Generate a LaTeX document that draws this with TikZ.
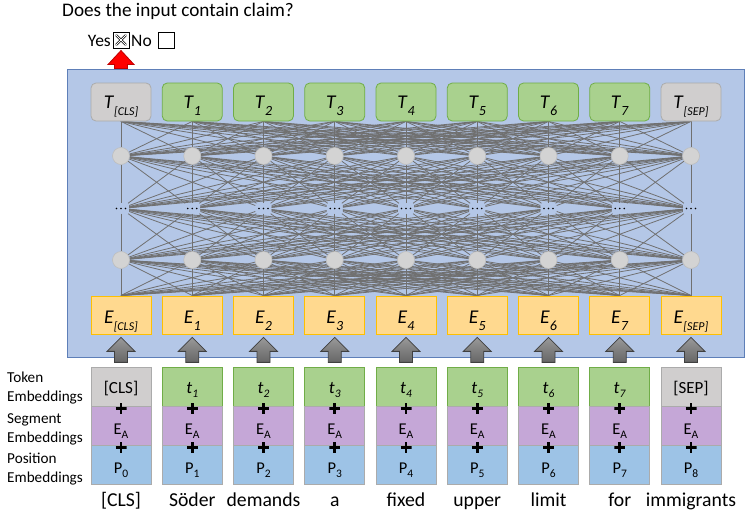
\documentclass[tikz,border=0pt]{standalone}
\usepackage{fontspec}
\setmainfont{Carlito}
\usetikzlibrary{calc}

\pgfdeclarelayer{back}
\pgfdeclarelayer{mid}
\pgfsetlayers{back,mid,main}

\definecolor{panelfill}{HTML}{B4C7E7}
\definecolor{paneledge}{HTML}{5E7FB8}
\definecolor{greenfill}{HTML}{A9D18E}
\definecolor{greenedge}{HTML}{70AD47}
\definecolor{grayfill}{HTML}{D0CECE}
\definecolor{grayedge}{HTML}{ABABAB}
\definecolor{orangefill}{HTML}{FFD98F}
\definecolor{orangeedge}{HTML}{FFC000}
\definecolor{segfill}{HTML}{C5A7D7}
\definecolor{posfill}{HTML}{9DC3E6}
\definecolor{wirecolor}{HTML}{707070}
\definecolor{neuronfill}{HTML}{D3D3D3}
\definecolor{neuronedge}{HTML}{BDBDBD}
\definecolor{arrowred}{HTML}{FF0000}
\definecolor{arrowrededge}{HTML}{C00000}

\newcommand{\fsz}[1]{\fontsize{#1}{#1}\selectfont}
% italic symbol with lowered italic subscript
\newcommand{\itlbl}[4]{\fsz{#1}\textit{#2}\raisebox{-7pt}{\fsz{#3}\textit{#4}}}
% token symbol t_i
\newcommand{\toklbl}[1]{\fsz{17.5}\textit{t}\raisebox{-4pt}{\fsz{11.5}\textit{#1}}}
% upright symbol with lowered subscript
\newcommand{\uplbl}[2]{\fsz{16.5}#1\raisebox{-4pt}{\fsz{11.5}#2}}

\tikzset{
  panelbox/.style={draw=paneledge, fill=panelfill, line width=1pt,
    minimum width=677pt, minimum height=288pt, inner sep=0pt},
  tbox/.style={rounded corners=5pt, minimum width=60pt, minimum height=38pt,
    inner sep=0pt, line width=0.8pt, text height=13pt, text depth=0pt},
  tgreen/.style={tbox, fill=greenfill, draw=greenedge},
  tgray/.style={tbox, fill=grayfill, draw=grayedge},
  ebox/.style={minimum width=60pt, minimum height=38pt, inner sep=0pt,
    fill=orangefill, draw=orangeedge, line width=1pt, text height=16pt, text depth=0pt},
  neuron/.style={circle, minimum size=17pt, inner sep=0pt, fill=neuronfill,
    draw=neuronedge, line width=0.6pt},
  dotgap/.style={minimum width=16pt, minimum height=10pt, inner sep=0pt,
    path picture={
      \fill (path picture bounding box.center) circle (0.9pt)
            ([xshift=-4.5pt]path picture bounding box.center) circle (0.9pt)
            ([xshift=4.5pt]path picture bounding box.center) circle (0.9pt);}},
  wire/.style={draw=wirecolor, line width=0.8pt},
  embbox/.style={minimum width=60pt, minimum height=39pt, inner sep=0pt,
    draw=grayedge, line width=0.8pt},
  tokgreen/.style={embbox, fill=greenfill, draw=greenedge, text height=12pt, text depth=0pt},
  tokgray/.style={embbox, fill=grayfill, text height=12pt, text depth=0pt},
  segbox/.style={embbox, fill=segfill, text height=16pt, text depth=0pt},
  posbox/.style={embbox, fill=posfill, text height=16pt, text depth=0pt},
  plussign/.style={minimum size=11pt, inner sep=0pt,
    path picture={\draw[line width=2.6pt]
      (path picture bounding box.west) -- (path picture bounding box.east)
      (path picture bounding box.north) -- (path picture bounding box.south);}},
  grayarrow/.style={draw=black!75, line width=0.8pt, top color=black!40, bottom color=black!60},
  redarrow/.style={draw=arrowrededge, fill=arrowred, line width=0.8pt},
  checkbox/.style={draw=black, line width=0.8pt, minimum size=16pt, inner sep=0pt},
  crossed/.style={checkbox, path picture={
      \draw[line width=2.4pt, line cap=round]
        ($(path picture bounding box.south west)+(3.5pt,3.5pt)$) -- ($(path picture bounding box.north east)+(-3.5pt,-3.5pt)$)
        ($(path picture bounding box.north west)+(3.5pt,-3.5pt)$) -- ($(path picture bounding box.south east)+(-3.5pt,3.5pt)$);
      \draw[white, line width=0.9pt, line cap=round]
        ($(path picture bounding box.south west)+(3.5pt,3.5pt)$) -- ($(path picture bounding box.north east)+(-3.5pt,-3.5pt)$)
        ($(path picture bounding box.north west)+(3.5pt,-3.5pt)$) -- ($(path picture bounding box.south east)+(-3.5pt,3.5pt)$);}},
  plaintext/.style={inner sep=0pt},
  sidelabel/.style={inner sep=0pt, anchor=west, align=left, font=\fontsize{15.2}{19}\selectfont},
}

\begin{document}
\begin{tikzpicture}[x=1pt, y=-1pt]
\useasboundingbox (0,0) rectangle (746,511);

% encoder panel
\begin{pgfonlayer}{back}
  \node[panelbox] (panel) at (405.5,213) {};
\end{pgfonlayer}

% question and answer boxes
\node[plaintext, anchor=base west, font=\fsz{19.2}] (question) at (62,17) {Does the input contain claim?};
\node[plaintext, anchor=base east, font=\fsz{17.5}] (yes) at (111,46) {Yes};
\node[crossed] (yesbox) at (121,40) {};
\node[plaintext, anchor=base west, font=\fsz{17.5}] (no) at (131,46) {No};
\node[checkbox] (nobox) at (166,40) {};

% output row
\node[tgray] (T0) at (121,102) {\itlbl{19.5}{T}{12}{[CLS]}};
\foreach \i in {1,...,7}
  \node[tgreen] (T\i) at ({121+71.25*\i},102) {\itlbl{19.5}{T}{14}{\i}};
\node[tgray] (T8) at (691,102) {\itlbl{19.5}{T}{12}{[SEP]}};

% hidden units
\foreach \i in {0,...,8}{
  \node[neuron] (h\i) at ({121+71.25*\i},156) {};
  \node[dotgap] (d\i) at ({121+71.25*\i},208.5) {};
  \node[neuron] (g\i) at ({121+71.25*\i},260) {};
}

% input embedding row
\node[ebox] (E0) at (121,315) {\itlbl{19.5}{E}{12}{[CLS]}};
\foreach \i in {1,...,7}
  \node[ebox] (E\i) at ({121+71.25*\i},315) {\itlbl{19.5}{E}{14}{\i}};
\node[ebox] (E8) at (691,315) {\itlbl{19.5}{E}{12}{[SEP]}};

% full connections between layers
\begin{pgfonlayer}{mid}
\foreach \i in {0,...,8}{
  \foreach \j in {0,...,8}{
    \draw[wire] (T\i.south) -- (h\j);
    \draw[wire] (h\i) -- (d\j);
    \draw[wire] (d\i) -- (g\j);
    \draw[wire] (g\i) -- (E\j.north);
  }
}
\end{pgfonlayer}

% token / segment / position embeddings
\node[tokgray] (tok0) at (121,387.25) {\fsz{17}[CLS]};
\foreach \i in {1,...,7}
  \node[tokgreen] (tok\i) at ({121+71.25*\i},387.25) {\toklbl{\i}};
\node[tokgray] (tok8) at (691,387.25) {\fsz{17}[SEP]};

\foreach \i in {0,...,8}{
  \node[segbox] (seg\i) at ({121+71.25*\i},426.25) {\uplbl{E}{A}};
  \node[posbox] (pos\i) at ({121+71.25*\i},465.25) {\uplbl{P}{\i}};
  \node[plussign] (plusA\i) at ([yshift=-1.5pt]tok\i.south) {};
  \node[plussign] (plusB\i) at ([yshift=-1.5pt]seg\i.south) {};
  % block arrow from token stack into the encoder
  \draw[grayarrow] ($(tok\i.north)+(-6.5,-5)$) -- ++(0,-11) -- ++(-7.5,0)
    -- ++(14,-14) -- ++(14,14) -- ++(-7.5,0) -- ++(0,11) -- cycle;
}

% words
\foreach \i/\w in {0/{[CLS]},1/Söder,2/demands,3/a,4/fixed,5/upper,6/limit,7/for,8/immigrants}
  \node[plaintext, anchor=base, font=\fsz{19.7}] (w\i) at ({121+71.25*\i},506) {\w};

% row labels
\node[sidelabel] (toklabel) at (7,388) {Token\\Embeddings};
\node[sidelabel] (seglabel) at (7,429) {Segment\\Embeddings};
\node[sidelabel] (poslabel) at (7,469) {Position\\Embeddings};

% classification output arrow
\draw[redarrow] ($(T0.north |- panel.north)+(-6.5,0)$) -- ++(0,-4) -- ++(-6.5,0)
  -- ++(13,-14) -- ++(13,14) -- ++(-6.5,0) -- ++(0,4) -- cycle;

\end{tikzpicture}
\end{document}
